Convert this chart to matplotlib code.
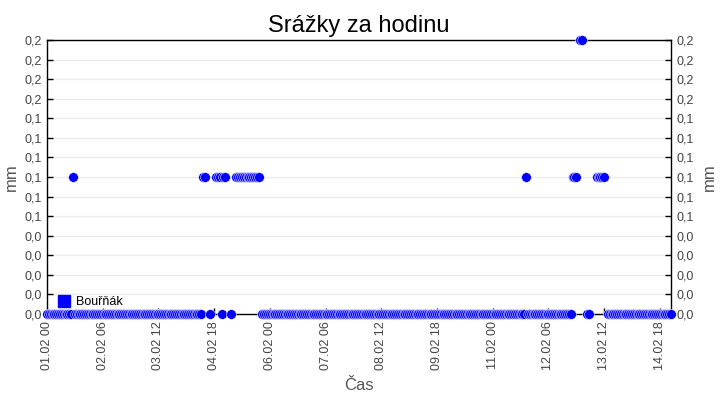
import numpy as np
import pandas as pd
import matplotlib
matplotlib.use('Agg')
import matplotlib.pyplot as plt
import matplotlib.dates as mdates
from matplotlib.lines import Line2D

plt.rcParams['font.family'] = ['Liberation Sans', 'DejaVu Sans']

# hourly precipitation, 01.02 00 .. 15.02 00
start = '2024-02-01 00:00'
n_hours = 337
# hours (from start) with 0,1 mm and 0,2 mm; the rest is 0 or missing
hours_01 = [14, 84, 85, 91, 92, 93, 95, 96,
            102, 103, 104, 105, 106, 107, 108, 109, 110, 111, 112, 113, 114,
            258, 283, 284, 285, 296, 297, 298, 299, 300]
hours_02 = [287, 288]
hours_missing = [86, 87, 89, 90, 97, 98, 100, 101, 115,
                 286, 289, 290, 293, 294, 295, 301]

series_name = 'Bouřňák'
ytick_vals = np.linspace(0, 0.2, 15)
ytick_labels = ['0,0'] * 5 + ['0,1'] * 6 + ['0,2'] * 4
xtick_step_h = 30

times = pd.date_range(start, periods=n_hours, freq='h')
vals = np.zeros(n_hours)
vals[hours_01] = 0.1
vals[hours_02] = 0.2
vals[hours_missing] = np.nan

fig = plt.figure(figsize=(7.2, 4.0), dpi=100)
ax = fig.add_axes([47 / 720, 1 - 314 / 400, 624 / 720, 274 / 400])

ax.plot(times, vals, linestyle='none', marker='o', markersize=7,
        markerfacecolor='#0000ff', markeredgecolor='white', markeredgewidth=0.35,
        clip_on=False, zorder=3)

ax.set_xlim(times[0], times[-1])
ax.set_ylim(0, 0.2)

xticks = pd.date_range(start, times[-1], freq='%dh' % xtick_step_h)
ax.set_xticks(xticks)
ax.xaxis.set_major_formatter(mdates.DateFormatter('%d.%m %H'))
plt.setp(ax.get_xticklabels(), rotation=90)

ax.set_yticks(ytick_vals)
ax.set_yticklabels(ytick_labels)
ax.tick_params(axis='both', direction='in', length=4, width=1, colors='black',
               labelcolor='#444444', labelsize=9)
ax.tick_params(axis='y', right=True, labelright=True, pad=4)
ax.tick_params(axis='x', pad=5)

ax.grid(axis='y', color='#ebebeb', linewidth=1)
ax.set_axisbelow(True)
for s in ax.spines.values():
    s.set_color('black')
    s.set_linewidth(1)

ax.set_title('Srážky za hodinu', fontsize=17, pad=6)
ax.set_xlabel('Čas', fontsize=12, color='#555555', labelpad=6)
ax.set_ylabel('mm', fontsize=12, color='#555555', labelpad=4)
ax2 = ax.secondary_yaxis('right')
ax2.set_yticks([])
ax2.spines['right'].set_visible(False)
ax2.set_ylabel('mm', fontsize=12, color='#555555', labelpad=22)

handle = Line2D([], [], linestyle='none', marker='s', markersize=9,
                markerfacecolor='#0000ff', markeredgecolor='#0000ff')
ax.legend([handle], [series_name], loc='lower left', bbox_to_anchor=(0.008, -0.002),
          frameon=False, fontsize=9, handlelength=1.0, handletextpad=0.4,
          borderaxespad=0.3, borderpad=0.2)

fig.savefig('out.png', dpi=100)
